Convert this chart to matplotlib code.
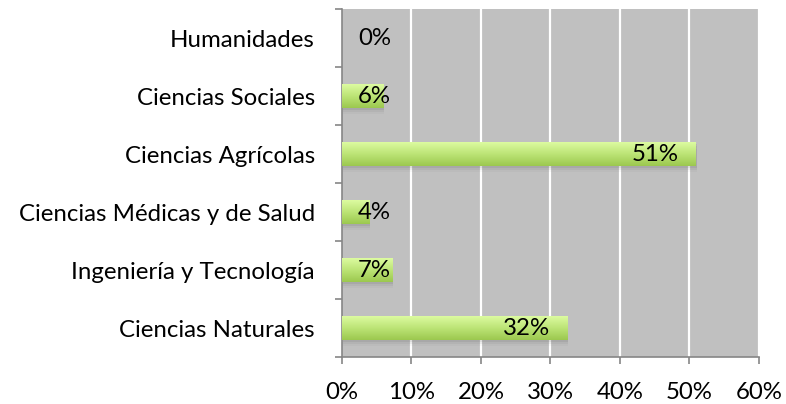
import numpy as np
import matplotlib
matplotlib.use('Agg')
from matplotlib import pyplot as plt
from matplotlib.patches import Rectangle
from matplotlib.colors import LinearSegmentedColormap

plt.rcParams['font.family'] = ['Lato', 'DejaVu Sans']

categories = ['Ciencias Naturales', 'Ingeniería y Tecnología', 'Ciencias Médicas y de Salud',
              'Ciencias Agrícolas', 'Ciencias Sociales', 'Humanidades']
values = [32.4, 7.2, 3.9, 50.9, 5.9, 0.0]
labels = ['32%', '7%', '4%', '51%', '6%', '0%']
xticks = [0, 10, 20, 30, 40, 50, 60]

fs = 17.3

fig = plt.figure(figsize=(7.86, 4.04), dpi=100)
ax = fig.add_axes([0.4351, 0.1163, 0.5305, 0.8614])
ax.set_facecolor('#c0c0c0')

for x in xticks[1:]:
    ax.axvline(x, color='white', lw=1.6, zorder=1)

# vertical green gradient for the bars
grad = np.linspace(0, 1, 64).reshape(-1, 1)
cmap = LinearSegmentedColormap.from_list('bar', ['#9cc84f', '#bce476', '#dcfba0'])

h = 0.4
for i, v in enumerate(values):
    if v <= 0:
        continue
    # soft shadow
    for k, a in enumerate([0.10, 0.07, 0.04]):
        d = 0.035 * (k + 1)
        ax.add_patch(Rectangle((0.15, i - h / 2 - d), v, h, color='#505050', alpha=a, lw=0, zorder=2))
    ax.imshow(grad, cmap=cmap, aspect='auto', extent=(0, v, i - h / 2, i + h / 2),
              origin='lower', zorder=3, interpolation='bilinear')

for i, (v, lab) in enumerate(zip(values, labels)):
    if v < 10:
        ax.text(2.3, i, lab, ha='left', va='center', fontsize=fs, color='black', zorder=4)
    else:
        ax.text(v - 2.45, i, lab, ha='right', va='center', fontsize=fs, color='black', zorder=4)

ax.set_xlim(0, 60)
ax.set_ylim(-0.5, len(categories) - 0.5)

ax.set_xticks(xticks)
ax.set_xticklabels(['%d%%' % x for x in xticks], fontsize=fs)
ax.set_yticks(range(len(categories)))
ax.set_yticklabels(categories, fontsize=fs)
ax.tick_params(axis='y', which='major', length=0, pad=19.5)
ax.set_yticks(np.arange(-0.5, len(categories), 1.0), minor=True)
ax.tick_params(axis='y', which='minor', length=5, color='#868686', width=1.2)
ax.tick_params(axis='x', length=5, color='#868686', width=1.2, pad=13)

for s in ['top', 'right']:
    ax.spines[s].set_visible(False)
for s in ['left', 'bottom']:
    ax.spines[s].set_color('#868686')
    ax.spines[s].set_linewidth(1.2)

fig.savefig('out.png', dpi=100)
